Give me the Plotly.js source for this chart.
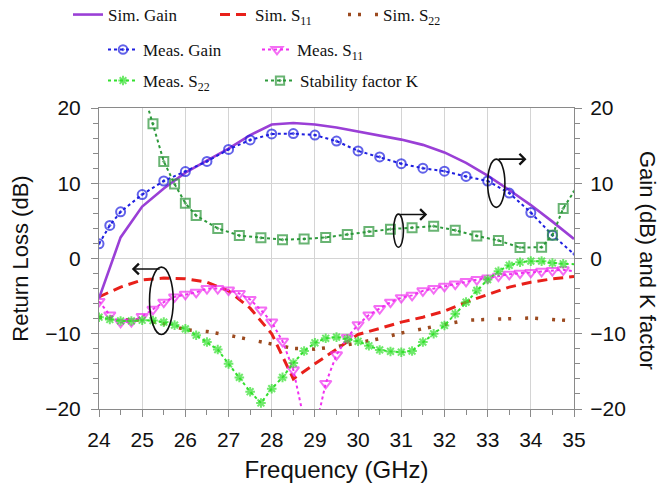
<!DOCTYPE html>
<html>
<head>
<meta charset="utf-8">
<script src="https://cdn.plot.ly/plotly-3.0.1.min.js"></script>
<style>html,body{margin:0;padding:0;background:#fff;}#chart{width:660px;height:496px;}</style>
</head>
<body>
<div id="chart"></div>
<script>
// ---- data ----
const freqSim = [24,24.5,25,25.5,26,26.5,27,27.5,28,28.5,29,29.5,30,30.5,31,31.5,32,32.5,33,33.5,34,34.5,35];
const simGain = [-5.3,2.8,6.9,9.3,11.4,13.0,14.6,16.4,17.8,18.0,17.8,17.4,16.9,16.4,15.8,15.1,14.1,12.7,11.0,9.1,7.1,4.9,2.6];
const simS11  = [-5.1,-3.8,-2.85,-2.6,-2.7,-3.15,-4.3,-6.6,-10.0,-16.0,-14.0,-12.0,-10.1,-9.3,-8.45,-7.8,-7.0,-5.8,-4.8,-3.8,-3.15,-2.7,-2.4];
const simS22  = [-7.8,-8.1,-8.2,-8.65,-9.45,-9.7,-10.2,-10.8,-11.3,-11.95,-12.05,-11.7,-11.2,-10.65,-9.9,-9.3,-8.7,-8.2,-8.1,-7.95,-7.9,-8.1,-8.3];

const freqMeasGain = [24,24.25,24.5,25,25.5,26,26.5,27,27.5,28,28.5,29,29.5,30,30.5,31,31.5,32,32.5,33,33.5,34,34.5,35];
const measGain = [1.95,4.4,6.2,8.5,10.3,11.55,12.9,14.5,15.75,16.55,16.6,16.4,15.6,14.3,13.5,12.6,12.0,11.6,10.9,10.3,8.7,6.1,3.1,0.6];

const freqMeas = [24,24.25,24.5,24.75,25,25.25,25.5,25.75,26,26.25,26.5,26.75,27,27.25,27.5,27.75,28,28.25,28.5,28.75,29,29.25,29.5,29.75,30,30.25,30.5,30.75,31,31.25,31.5,31.75,32,32.25,32.5,32.75,33,33.25,33.5,33.75,34,34.25,34.5,34.75,35];
const measS11 = [-5.7,-7.5,-8.5,-8.4,-7.7,-6.75,-5.8,-5.1,-4.75,-4.5,-4.0,-4.0,-4.2,-4.65,-5.45,-6.85,-8.45,-11.0,-14.8,-21.5,-23.0,-16.6,-12.8,-10.5,-8.8,-7.5,-6.65,-5.8,-5.2,-4.9,-4.3,-4.0,-3.7,-3.4,-3.05,-2.8,-2.6,-2.35,-2.1,-1.95,-1.85,-1.7,-1.6,-1.5,-1.7];
const measS22 = [-7.8,-8.1,-8.3,-8.3,-8.2,-8.25,-8.45,-8.85,-9.35,-10.2,-11.1,-12.1,-14.0,-15.8,-17.7,-19.2,-17.3,-15.8,-13.9,-12.3,-11.2,-10.6,-10.45,-10.7,-11.0,-11.6,-12.15,-12.35,-12.45,-12.3,-11.1,-10.0,-8.9,-7.35,-5.8,-4.25,-2.8,-1.7,-0.9,-0.5,-0.35,-0.35,-0.6,-0.7,-0.75];

const freqK = [25,25.25,25.5,25.75,26,26.25,26.75,27.25,27.75,28.25,28.75,29.25,29.75,30.25,30.75,31.25,31.75,32.25,32.75,33.25,33.75,34.25,34.5,34.75,35];
const kFactor = [22.7,17.9,12.9,9.9,7.35,5.7,4.0,3.05,2.75,2.5,2.6,2.8,3.2,3.6,3.9,4.1,4.3,3.75,3.0,2.4,1.45,1.5,3.1,6.65,8.9];

const xTicks = [24,25,26,27,28,29,30,31,32,33,34,35];
const yTicks = [-20,-10,0,10,20];

const names = ['Sim. Gain','Sim. S<sub>11</sub>','Sim. S<sub>22</sub>','Meas. Gain','Meas. S<sub>11</sub>','Meas. S<sub>22</sub>','Stability factor K'];

// ---- helpers for styles ----
function sizes(n, s, skipFirst, skipLast){
  const a = new Array(n).fill(s);
  if(skipFirst) a[0] = 0;
  if(skipLast) a[n-1] = 0;
  return a;
}

const traces = [
  {x: freqSim, y: simGain, yaxis:'y2', name: names[0], mode:'lines', legend:'legend',
   line:{color:'#9a3fd6', width:2.6}},
  {x: freqSim, y: simS11, name: names[1], mode:'lines', legend:'legend2',
   line:{color:'#e8201a', width:3, dash:'10px,6px'}},
  {x: freqSim, y: simS22, name: names[2], mode:'lines', legend:'legend3',
   line:{color:'#9c4a1f', width:3.5, dash:'3px,7px,3px,14px'}},
  {x: freqMeasGain, y: measGain, yaxis:'y2', name: names[3], mode:'lines+markers', legend:'legend4',
   line:{color:'#1f1fe0', width:2, dash:'dot'},
   marker:{symbol:'circle-open-dot', size:sizes(freqMeasGain.length,9,false,true), color:'#1f1fe0', line:{width:2, color:'#1f1fe0'}}},
  {x: freqMeas, y: measS11, name: names[4], mode:'lines+markers', legend:'legend5',
   line:{color:'#f030f0', width:2, dash:'dot'},
   marker:{symbol:'triangle-down-open', size:sizes(freqMeas.length,10,false,true), color:'#f030f0', line:{width:2, color:'#f030f0'}}},
  {x: freqMeas, y: measS22, name: names[5], mode:'lines+markers', legend:'legend6',
   line:{color:'#33e02e', width:2, dash:'dot'},
   marker:{symbol:'asterisk-open', size:sizes(freqMeas.length,8,false,true), color:'#33e02e', line:{width:2, color:'#33e02e'}}},
  {x: freqK, y: kFactor, yaxis:'y2', name: names[6], mode:'lines+markers', legend:'legend7',
   line:{color:'#2e9a3c', width:2, dash:'dot'},
   marker:{symbol:'square-open-dot', size:sizes(freqK.length,9,true,true), color:'#2a9438', line:{width:2, color:'#2a9438'}}}
];

const W = 660, H = 496;
const L = 99, R = 574, T = 108, B = 409;
function px2x(px){ return (px - L)/(R - L); }
function py2y(py){ return (B - py)/(B - T); }
const legFont = {family:'"Liberation Serif", "Times New Roman", serif', size:17, color:'#111'};
function leg(textStartPx, centerPy){
  return {x: (textStartPx - 40)/W, y: 1 - centerPy/H, xref:'container', yref:'container',
          xanchor:'left', yanchor:'middle',
          orientation:'h', font: legFont, bgcolor:'rgba(0,0,0,0)', borderwidth:0};
}

const axisFont = {family:'"Liberation Sans", Arial, sans-serif', size:21, color:'#111'};
const gridC = '#d4d4d4', lineC = '#8a8a8a';

const layout = {
  width:W, height:H,
  margin:{l:L, r:W-R, t:T, b:H-B, pad:0},
  showlegend:true,
  paper_bgcolor:'#fff', plot_bgcolor:'#fff',
  font:{family:'"Liberation Sans", Arial, sans-serif', color:'#111'},
  xaxis:{range:[24,35], tickvals:xTicks, ticks:'outside', ticklen:7, tickcolor:lineC, tickwidth:1,
         minor:{dtick:0.5, ticks:'outside', ticklen:5, tickcolor:lineC, showgrid:false},
         showgrid:true, gridcolor:gridC, gridwidth:1, showline:true, linecolor:lineC, linewidth:1, mirror:true,
         zeroline:false, tickfont:axisFont, ticklabelstandoff:5, automargin:false,
         title:{text:'Frequency (GHz)', font:{family:'"Liberation Sans", Arial, sans-serif', size:24, color:'#111'}, standoff:10}},
  yaxis:{range:[-20,20], tickvals:yTicks, ticks:'outside', ticklen:7, tickcolor:lineC, tickwidth:1,
         minor:{dtick:2, ticks:'outside', ticklen:5, tickcolor:lineC, showgrid:false},
         showgrid:true, gridcolor:gridC, gridwidth:1, showline:true, linecolor:lineC, linewidth:1,
         zeroline:false, tickfont:axisFont, ticklabelstandoff:6, automargin:false,
         title:{text:'Return Loss (dB)', font:{family:'"Liberation Sans", Arial, sans-serif', size:22, color:'#111'}, standoff:10}},
  yaxis2:{range:[-20,20], tickvals:yTicks, overlaying:'y', side:'right', ticks:'outside', ticklen:7, tickcolor:lineC, tickwidth:1,
         minor:{dtick:2, ticks:'outside', ticklen:5, tickcolor:lineC, showgrid:false},
         showgrid:false, showline:true, linecolor:lineC, linewidth:1, zeroline:false, tickfont:axisFont, ticklabelstandoff:4, automargin:false},
  legend: leg(108, 15),
  legend2: leg(255, 15),
  legend3: leg(383, 15),
  legend4: leg(143, 50),
  legend5: leg(297, 50),
  legend6: leg(143, 81),
  legend7: leg(300, 81),
  shapes:[
    {type:'circle', xref:'x', yref:'y', x0:25.17, x1:25.72, y0:-10.1, y1:-1.15, line:{color:'#111', width:1.6}},
    {type:'circle', xref:'x', yref:'y', x0:33.0, x1:33.4, y0:6.8, y1:13.2, line:{color:'#111', width:1.6}},
    {type:'circle', xref:'x', yref:'y', x0:30.82, x1:31.05, y0:1.5, y1:5.9, line:{color:'#111', width:1.6}}
  ],
  annotations:[
    {xref:'x', yref:'y', axref:'x', ayref:'y', x:24.76, y:-1.4, ax:25.44, ay:-1.4, text:'', showarrow:true,
     arrowhead:4, arrowsize:1.3, arrowwidth:1.6, arrowcolor:'#111'},
    {xref:'x', yref:'y', axref:'x', ayref:'y', x:33.9, y:13.2, ax:33.22, ay:13.2, text:'', showarrow:true,
     arrowhead:4, arrowsize:1.3, arrowwidth:1.6, arrowcolor:'#111'},
    {xref:'x', yref:'y', axref:'x', ayref:'y', x:31.6, y:5.85, ax:30.94, ay:5.85, text:'', showarrow:true,
     arrowhead:4, arrowsize:1.3, arrowwidth:1.6, arrowcolor:'#111'},
    {xref:'paper', yref:'paper', x:px2x(648), y:py2y(260), text:'Gain (dB) and K factor', textangle:90, showarrow:false,
     xanchor:'center', yanchor:'middle', font:{family:'"Liberation Sans", Arial, sans-serif', size:22, color:'#111'}}
  ]
};

Plotly.newPlot('chart', traces, layout, {staticPlot:true, displayModeBar:false});
</script>
</body>
</html>
